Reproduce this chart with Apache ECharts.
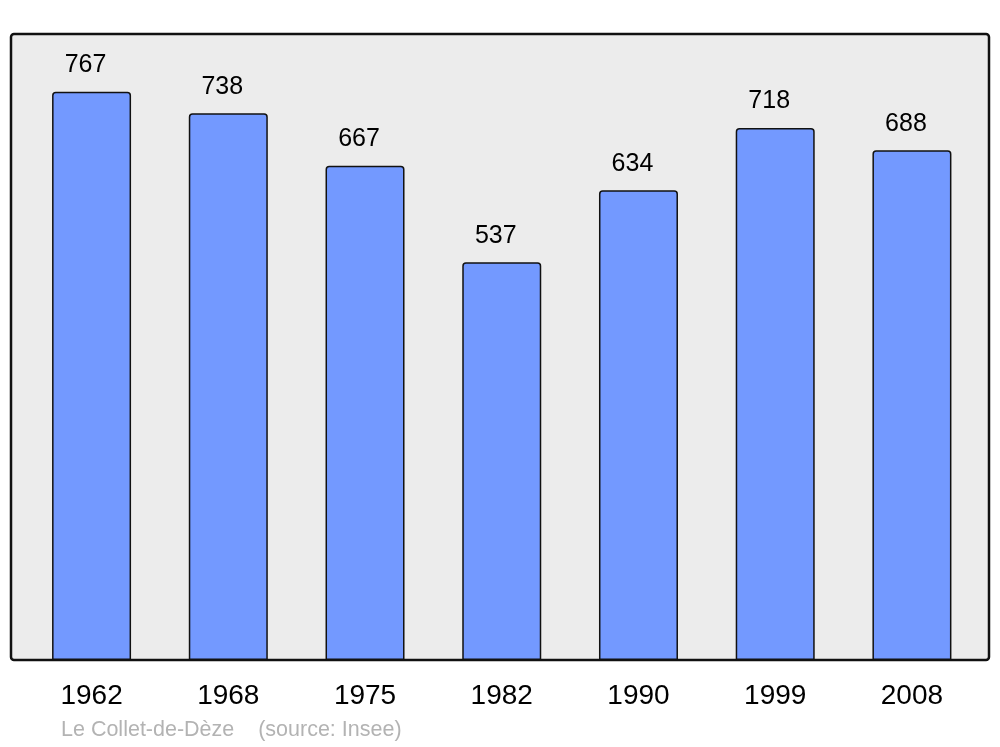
<!DOCTYPE html>
<html>
<head>
<meta charset="utf-8">
<script src="https://cdn.jsdelivr.net/npm/echarts@6/dist/echarts.min.js"></script>
<style>
html,body{margin:0;padding:0;background:#fff;}
#c{width:1000px;height:747px;}
</style>
</head>
<body>
<div id="c"></div>
<script>
var years = ['1962','1968','1975','1982','1990','1999','2008'];
var population = [767, 738, 667, 537, 634, 718, 688];
var sourceText = 'Le Collet-de-Dèze    (source: Insee)';

var chart = echarts.init(document.getElementById('c'), null, {renderer:'canvas'});
chart.setOption({
  animation: false,
  backgroundColor: '#ffffff',
  graphic: [
    {type:'rect', z: -10, shape:{x:11, y:34, width:978, height:626, r:3},
     style:{fill:'#ececec', stroke:'#111111', lineWidth:2.5}},
    {type:'text', left: 61, top: 719, style:{text: sourceText, fill:'#b3b3b3', font:'21.5px "Liberation Sans", Arial, sans-serif'}}
  ],
  grid: {left: 23.2, right: 19.7, top: 34, bottom: 87},
  xAxis: {
    type:'category', data: years,
    axisLine:{show:false}, axisTick:{show:false},
    axisLabel:{color:'#000', fontSize:28, fontFamily:'Liberation Sans', margin:22}
  },
  yAxis: {
    type:'value', min:0, max:845,
    show:false
  },
  series: [{
    type:'bar', data: population, barWidth: 79,
    itemStyle:{color:'#7399ff', borderColor:'#111', borderWidth:1.5, borderRadius:[3,3,0,0]},
    label:{show:true, position:'top', distance:14, offset:[-6,0], color:'#000', fontSize:25, fontFamily:'Liberation Sans'}
  }]
});
</script>
</body>
</html>
